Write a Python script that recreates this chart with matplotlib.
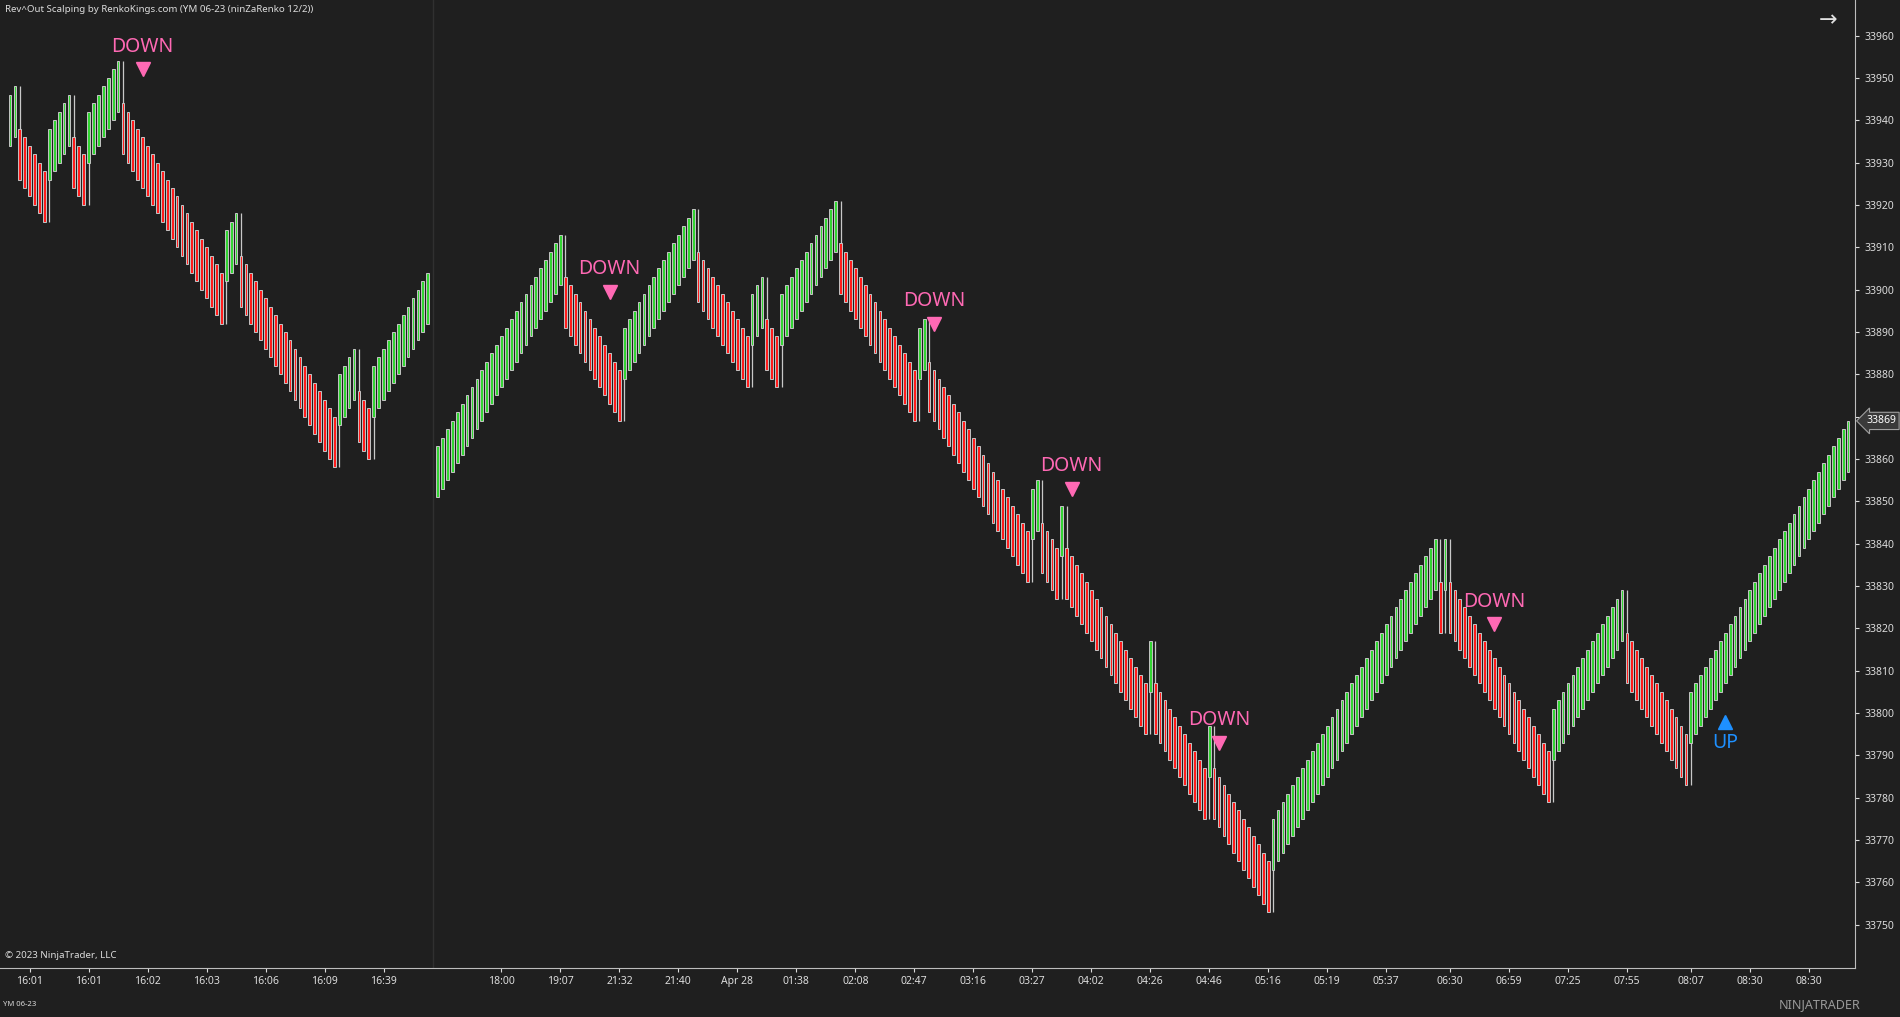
import numpy as np
import matplotlib
matplotlib.use("Agg")
import matplotlib.pyplot as plt

plt.rcParams['font.family'] = ['Noto Sans', 'DejaVu Sans']

# ninZaRenko 12/2 : brick 12, offset 2
BRICK = 12
OFFSET = 10

# session 1 (afternoon) and session 2 (overnight) as runs of bricks (+ up / - down)
s1_start = 33946
s1_runs = [2, -6, 5, -3, 7, -21, 3, -20, 4, -3, 11, 1]
s2_start = 33863
s2_runs = [26, -12, 15, -11, 3, -3, 12, -16, 2, -21, 2, -4, 1, -17, 1, -11, 1, -12,
           34, -1, 1, -21, 15, -13, 33]
s2_first_index = 87

tick_idx = [4, 16, 28, 40, 52, 64, 76, 100, 112, 124, 136, 148, 160, 172, 184, 196,
            208, 220, 232, 244, 256, 268, 280, 293, 305, 317, 329, 342, 354, 366]
tick_lbl = ['16:01', '16:01', '16:02', '16:03', '16:06', '16:09', '16:39',
            '18:00', '19:07', '21:32', '21:40', 'Apr 28', '01:38', '02:08', '02:47',
            '03:16', '03:27', '04:02', '04:26', '04:46', '05:16', '05:19', '05:37',
            '06:30', '06:59', '07:25', '07:55', '08:07', '08:30', '08:30']

sig_down_idx = [27, 122, 188, 216, 246, 302]
sig_down_px = [33952, 33899.5, 33892, 33853, 33793, 33821]
sig_up_idx = [349]
sig_up_px = [33798]
last_price = 33869


def build(start_close, runs):
    dirs = np.concatenate([np.full(abs(r), np.sign(r)) for r in runs])
    opens, closes, wick_hi, wick_lo = [], [], [], []
    for k, d in enumerate(dirs):
        if k == 0:
            c = start_close
            o = c - BRICK * d
        else:
            o = pc - OFFSET * pd
            c = o + BRICK * d
        hi, lo = max(o, c), min(o, c)
        if k > 0 and d != pd:
            hi, lo = max(hi, pc), min(lo, pc)
        opens.append(o); closes.append(c); wick_hi.append(hi); wick_lo.append(lo)
        pc, pd = c, d
    return dirs, np.array(opens), np.array(closes), np.array(wick_hi), np.array(wick_lo)


BG = '#1f1f1f'
TXT = '#dcdcdc'
fig = plt.figure(figsize=(19, 10.17), dpi=100, facecolor=BG)
ax = fig.add_axes([0, 49 / 1017, 1855 / 1900, 968 / 1017], facecolor=BG)

for start, runs, x0 in [(s1_start, s1_runs, 0), (s2_start, s2_runs, s2_first_index)]:
    dirs, o, c, hi, lo = build(start, runs)
    x = x0 + np.arange(len(dirs))
    ax.vlines(x, lo, hi, color='#c8c8c8', linewidth=0.9, zorder=2)
    fills = np.where(dirs > 0, '#33d433', '#ff1c1c')
    ax.bar(x, c - o, bottom=o, width=0.56, color=fills, edgecolor='#c4c4c4',
           linewidth=0.7, zorder=3)

ax.axvline(86, color='#303030', linewidth=1, zorder=1)

pink = '#ff69b4'
for i, p in zip(sig_down_idx, sig_down_px):
    ax.plot(i, p, marker='v', markersize=10, color=pink, zorder=4)
    ax.annotate('DOWN', (i, p), xytext=(0, 9), textcoords='offset points',
                ha='center', va='bottom', color=pink, fontsize=14)
for i, p in zip(sig_up_idx, sig_up_px):
    ax.plot(i, p, marker='^', markersize=10, color='#1e90ff', zorder=4)
    ax.annotate('UP', (i, p), xytext=(0, -8), textcoords='offset points',
                ha='center', va='top', color='#1e90ff', fontsize=14)

ax.set_xlim(-2.03, 375.4)
ax.set_ylim(33739.8, 33968.4)
ax.set_xticks(tick_idx)
ax.set_xticklabels(tick_lbl)
ax.set_yticks(np.arange(33750, 33961, 10))
ax.yaxis.tick_right()
ax.tick_params(colors=TXT, labelsize=7.5, length=3, width=0.8)
ax.tick_params(axis='x', pad=3)
for s in ['top', 'left']:
    ax.spines[s].set_visible(False)
for s in ['right', 'bottom']:
    ax.spines[s].set_color('#bdbdbd')

# last price tag
ax.annotate(str(last_price), (1.0, last_price), xycoords=('axes fraction', 'data'),
            xytext=(8, 0), textcoords='offset points', ha='left', va='center',
            color='#ffffff', fontsize=7.5,
            bbox=dict(boxstyle='larrow,pad=0.3', fc='#3a3a3a', ec='#a0a0a0', lw=0.8))

fig.text(5 / 1900, 1 - 10 / 1017, "Rev^Out Scalping by RenkoKings.com (YM 06-23 (ninZaRenko 12/2))",
         color=TXT, fontsize=7, va='center', ha='left')
fig.text(5 / 1900, 1 - 955 / 1017, "© 2023 NinjaTrader, LLC", color=TXT, fontsize=7,
         va='center', ha='left')
fig.text(3 / 1900, 1 - 1005 / 1017, "YM 06-23", color=TXT, fontsize=5.5, va='center', ha='left')
fig.text(1828 / 1900, 1 - 21 / 1017, "→", color='#e0e0e0', fontsize=16, va='center', ha='center')
fig.text(1860 / 1900, 1 - 1005 / 1017, "NINJATRADER", color='#9a9a9a', fontsize=9,
         va='center', ha='right')

fig.savefig('out.png', dpi=100, facecolor=BG)
